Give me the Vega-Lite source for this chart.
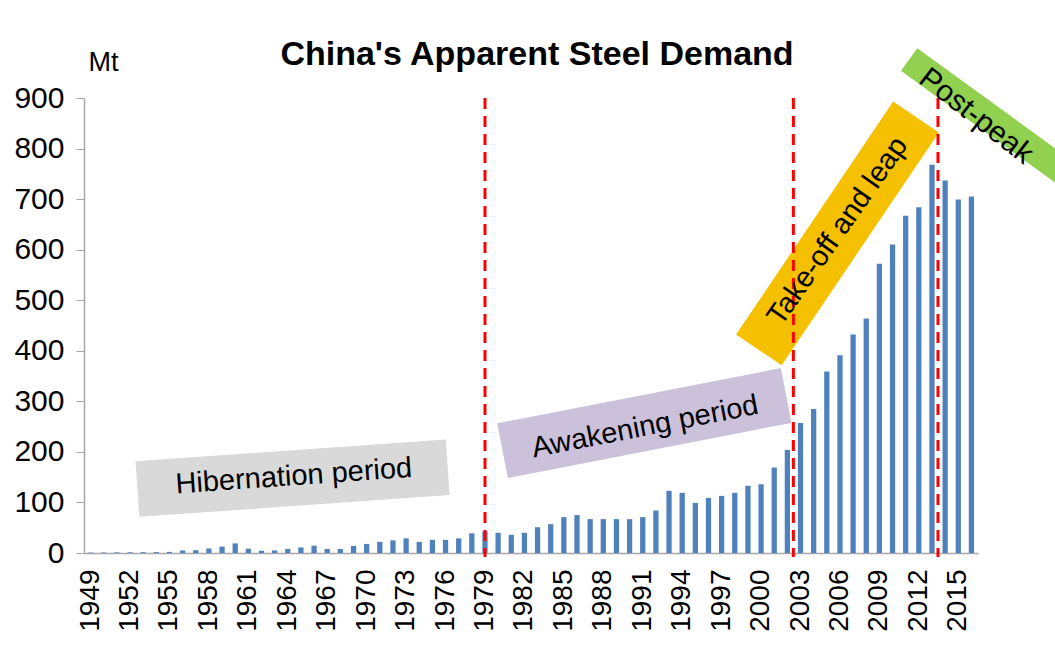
{
  "$schema": "https://vega.github.io/schema/vega-lite/v6.json",
  "autosize": {"type": "none"},
  "width": 894,
  "height": 455,
  "padding": {"left": 84, "top": 98, "right": 77, "bottom": 94},
  "background": "white",
  "title": {
    "text": "China's Apparent Steel Demand",
    "font": "Liberation Sans",
    "fontSize": 34,
    "fontWeight": "bold",
    "color": "#000000",
    "anchor": "middle",
    "dx": 6,
    "dy": 51,
    "offset": 27
  },
  "config": {
    "view": {"stroke": null},
    "font": "Liberation Sans"
  },
  "data": {
    "values": [
      {"year": "1949", "mt": 0.8}, {"year": "1950", "mt": 1.0}, {"year": "1951", "mt": 1.2},
      {"year": "1952", "mt": 1.4}, {"year": "1953", "mt": 1.6}, {"year": "1954", "mt": 1.8},
      {"year": "1955", "mt": 2.2}, {"year": "1956", "mt": 5}, {"year": "1957", "mt": 5.5},
      {"year": "1958", "mt": 9}, {"year": "1959", "mt": 12.5}, {"year": "1960", "mt": 19},
      {"year": "1961", "mt": 8.5}, {"year": "1962", "mt": 4.5}, {"year": "1963", "mt": 5},
      {"year": "1964", "mt": 8}, {"year": "1965", "mt": 11}, {"year": "1966", "mt": 14.5},
      {"year": "1967", "mt": 8}, {"year": "1968", "mt": 8}, {"year": "1969", "mt": 14},
      {"year": "1970", "mt": 18}, {"year": "1971", "mt": 22}, {"year": "1972", "mt": 25},
      {"year": "1973", "mt": 29}, {"year": "1974", "mt": 22}, {"year": "1975", "mt": 26},
      {"year": "1976", "mt": 26}, {"year": "1977", "mt": 29}, {"year": "1978", "mt": 39},
      {"year": "1979", "mt": 43}, {"year": "1980", "mt": 40}, {"year": "1981", "mt": 36},
      {"year": "1982", "mt": 40}, {"year": "1983", "mt": 51}, {"year": "1984", "mt": 57},
      {"year": "1985", "mt": 71}, {"year": "1986", "mt": 75}, {"year": "1987", "mt": 67},
      {"year": "1988", "mt": 67}, {"year": "1989", "mt": 67}, {"year": "1990", "mt": 67},
      {"year": "1991", "mt": 71}, {"year": "1992", "mt": 84}, {"year": "1993", "mt": 123},
      {"year": "1994", "mt": 119}, {"year": "1995", "mt": 99}, {"year": "1996", "mt": 109},
      {"year": "1997", "mt": 113}, {"year": "1998", "mt": 119}, {"year": "1999", "mt": 133},
      {"year": "2000", "mt": 136}, {"year": "2001", "mt": 169}, {"year": "2002", "mt": 204},
      {"year": "2003", "mt": 257}, {"year": "2004", "mt": 285}, {"year": "2005", "mt": 359},
      {"year": "2006", "mt": 391}, {"year": "2007", "mt": 432}, {"year": "2008", "mt": 464},
      {"year": "2009", "mt": 572}, {"year": "2010", "mt": 610}, {"year": "2011", "mt": 667},
      {"year": "2012", "mt": 684}, {"year": "2013", "mt": 768}, {"year": "2014", "mt": 737},
      {"year": "2015", "mt": 699}, {"year": "2016", "mt": 705}
    ]
  },
  "layer": [
    {
      "data": {"values": [{"label": "Hibernation period"}]},
      "mark": {"type": "point", "filled": true, "opacity": 1, "color": "#d9d9d9", "shape": "M-1,-0.179L1,-0.179L1,0.179L-1,0.179Z", "size": 96721, "angle": -4, "xOffset": 4.8},
      "encoding": {"x": {"datum": "1964"}, "y": {"datum": 148}}
    },
    {
      "data": {"values": [{"label": "Awakening period"}]},
      "mark": {"type": "point", "filled": true, "opacity": 1, "color": "#ccc1da", "shape": "M-1,-0.193L1,-0.193L1,0.193L-1,0.193Z", "size": 83521, "angle": -11, "xOffset": 1.6},
      "encoding": {"x": {"datum": "1991"}, "y": {"datum": 257}}
    },
    {
      "data": {"values": [{"label": "Take-off and leap"}]},
      "mark": {"type": "point", "filled": true, "opacity": 1, "color": "#f5c000", "shape": "M-1,-0.196L1,-0.196L1,0.196L-1,0.196Z", "size": 78961, "angle": -56, "xOffset": -2.5},
      "encoding": {"x": {"datum": "2006"}, "y": {"datum": 632}}
    },
    {
      "data": {"values": [{"label": "Post-peak"}]},
      "mark": {"type": "point", "filled": true, "opacity": 1, "color": "#92d050", "shape": "M-1,-0.139L1,-0.139L1,0.139L-1,0.139Z", "size": 40000, "angle": 36, "xOffset": 18.6},
      "encoding": {"x": {"datum": "2016"}, "y": {"datum": 860}}
    },
    {
      "mark": {"type": "bar", "color": "#4f81bd"},
      "encoding": {
        "x": {
          "field": "year", "type": "ordinal",
          "scale": {"paddingInner": 0.6, "paddingOuter": 0.3},
          "axis": {
            "title": null,
            "values": ["1949","1952","1955","1958","1961","1964","1967","1970","1973","1976","1979","1982","1985","1988","1991","1994","1997","2000","2003","2006","2009","2012","2015"],
            "labelAngle": -90,
            "labelFontSize": 28,
            "labelColor": "#000000",
            "labelPadding": 16,
            "ticks": false,
            "domainColor": "#a6a6a6",
            "domainWidth": 1.5
          }
        },
        "y": {
          "field": "mt", "type": "quantitative",
          "scale": {"domain": [0, 900], "nice": false},
          "axis": {
            "title": "Mt",
            "titleAngle": 0,
            "titleX": 19,
            "titleY": -36,
            "titleAlign": "center",
            "titleBaseline": "middle",
            "titleFontSize": 27,
            "titleFontWeight": "normal",
            "titleColor": "#000000",
            "values": [0,100,200,300,400,500,600,700,800,900],
            "labelFontSize": 30,
            "labelColor": "#000000",
            "labelPadding": 12,
            "tickSize": 8,
            "tickColor": "#a6a6a6",
            "domainColor": "#a6a6a6",
            "domainWidth": 1.5,
            "grid": false
          }
        }
      }
    },
    {
      "data": {"values": [{"year": "1979"}]},
      "mark": {"type": "rule", "color": "#ff0000", "strokeWidth": 3, "strokeDash": [11, 7]},
      "encoding": {"x": {"field": "year", "type": "ordinal"}, "y": {"datum": 900}, "y2": {"datum": -8}}
    },
    {
      "data": {"values": [{"year": "2002"}, {"year": "2013"}]},
      "mark": {"type": "rule", "color": "#ff0000", "strokeWidth": 3, "strokeDash": [11, 7], "xOffset": 6},
      "encoding": {"x": {"field": "year", "type": "ordinal"}, "y": {"datum": 900}, "y2": {"datum": -8}}
    },
    {
      "data": {"values": [{"label": "Hibernation period"}]},
      "mark": {"type": "text", "fontSize": 29, "angle": -4, "color": "#000000", "align": "center", "baseline": "middle", "xOffset": 6},
      "encoding": {"x": {"datum": "1964"}, "y": {"datum": 152}, "text": {"field": "label"}}
    },
    {
      "data": {"values": [{"label": "Awakening period"}]},
      "mark": {"type": "text", "fontSize": 29, "angle": -11, "color": "#000000", "align": "center", "baseline": "middle", "xOffset": 2.3},
      "encoding": {"x": {"datum": "1991"}, "y": {"datum": 250}, "text": {"field": "label"}}
    },
    {
      "data": {"values": [{"label": "Take-off and leap"}]},
      "mark": {"type": "text", "fontSize": 29, "angle": -55, "color": "#000000", "align": "center", "baseline": "middle", "xOffset": -2.5},
      "encoding": {"x": {"datum": "2006"}, "y": {"datum": 637}, "text": {"field": "label"}}
    },
    {
      "data": {"values": [{"label": "Post-peak"}]},
      "mark": {"type": "text", "fontSize": 30, "angle": 38, "color": "#000000", "align": "center", "baseline": "middle", "xOffset": 4.6},
      "encoding": {"x": {"datum": "2016"}, "y": {"datum": 864}, "text": {"field": "label"}}
    }
  ]
}
